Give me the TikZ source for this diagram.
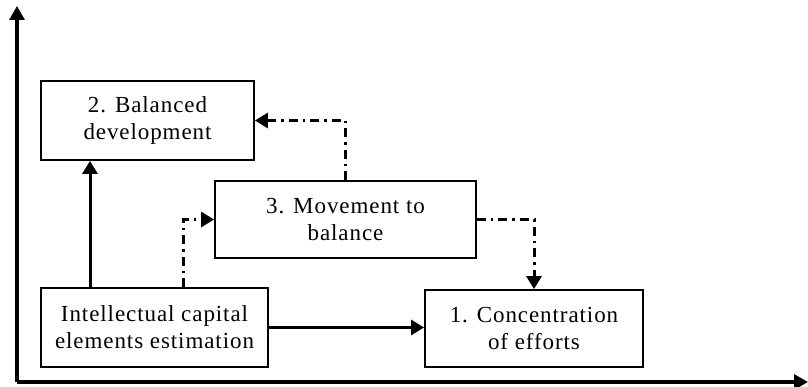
\documentclass[tikz,border=0pt]{standalone}
\usepackage{fontspec}
\setmainfont{Liberation Serif}
\usetikzlibrary{arrows.meta}
\begin{document}
\begin{tikzpicture}[x=1pt,y=-1pt,
  box/.style={draw,line width=1.8pt,align=center,inner sep=0pt,
    font=\fontsize{23}{27}\selectfont\addfontfeature{LetterSpace=4}},
  solidarr/.style={line width=3pt,-{Triangle[length=13pt,width=15pt]}},
  dasharr/.style={line width=3pt,dash pattern=on 9pt off 5pt on 2.5pt off 5pt,
    -{Triangle[length=13pt,width=15pt]}},
  axis/.style={line width=3.2pt,-{Triangle[length=14pt,width=15pt]}}]
\useasboundingbox (0,0) rectangle (808,387);
\node[box,minimum width=213pt,minimum height=79pt] (b2) at (147.5,120.5) {2. Balanced\\development};
\node[box,minimum width=261pt,minimum height=77pt] (b3) at (345.5,219.5) {3. Movement to\\balance};
\node[box,minimum width=227pt,minimum height=79pt] (ice) at (154.5,327.5) {Intellectual capital\\elements estimation};
\node[box,minimum width=218pt,minimum height=77pt] (b1) at (534,328.5) {1. Concentration\\of efforts};
\coordinate (o) at (17,382);
\coordinate (ytip) at (17,6);
\coordinate (xtip) at (808,382);
\draw[axis] (o) -- (ytip);
\draw[axis] (o) -- (xtip);
\coordinate (c1) at (90,0);
\coordinate (c2) at (183,0);
\draw[solidarr] (c1 |- ice.north) -- (c1 |- b2.south);
\draw[dasharr] (c2 |- ice.north) |- (b3.west);
\draw[dasharr] (b3.north) |- (b2.east);
\draw[dasharr] (b3.east) -| (b1.north);
\draw[solidarr] (ice.east) -- (ice.east -| b1.west);
\end{tikzpicture}
\end{document}
